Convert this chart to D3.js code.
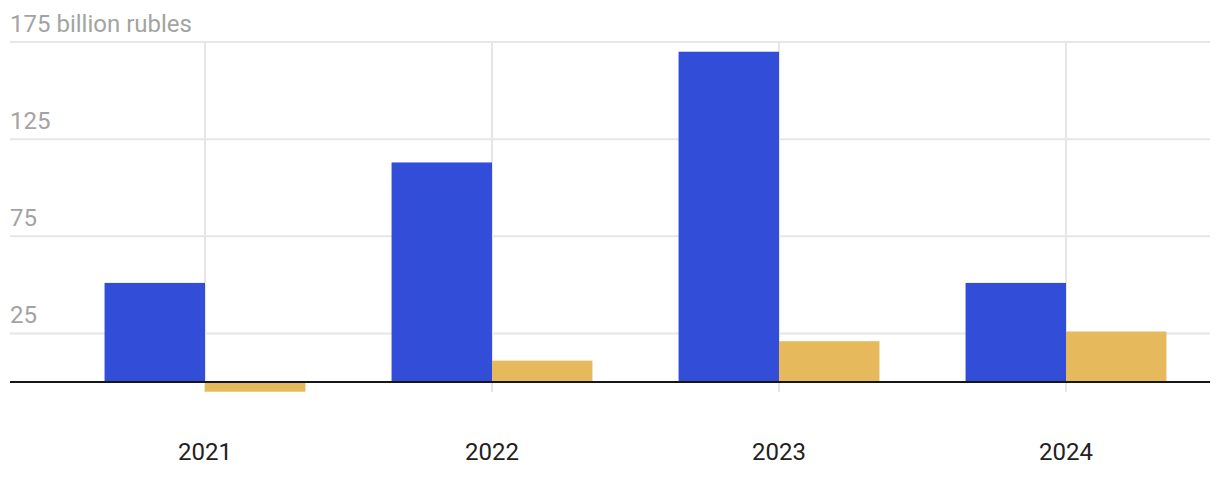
<!DOCTYPE html>
<html>
<head>
<meta charset="utf-8">
<script src="https://cdn.jsdelivr.net/npm/d3@7"></script>
<style>
  body { margin: 0; background: #fff; }
  svg text { font-family: Roboto, "Noto Sans", sans-serif; }
</style>
</head>
<body>
<div id="chart"></div>
<script>
// data
var years = ["2021", "2022", "2023", "2024"];
var seriesA = [51, 113, 170, 51];   // blue
var seriesB = [-5, 11, 21, 26];     // yellow
var yTicks = [25, 75, 125, 175];

var svgWidth = 1220, svgHeight = 484;

var svg = d3.select("#chart").append("svg")
    .attr("width", svgWidth)
    .attr("height", svgHeight);

// plot area
var gridLeft = 10, gridRight = 1210;
var plotTop = 42, plotBottom = 392;

var y = d3.scaleLinear()
    .domain([0, 175])
    .range([382, 42]);

var x0 = d3.scaleBand()
    .domain(years)
    .range([61.5, 1209.5])
    .paddingInner(0.3)
    .paddingOuter(0.15);

var x1 = d3.scaleBand()
    .domain([0, 1])
    .range([0, x0.bandwidth()]);

var colors = ["#324dd8", "#e7b95d"];

// horizontal gridlines
svg.append("g").selectAll("line")
    .data(yTicks)
    .enter().append("line")
    .attr("x1", gridLeft)
    .attr("x2", gridRight)
    .attr("y1", d => y(d))
    .attr("y2", d => y(d))
    .attr("stroke", "#e6e6e6")
    .attr("stroke-width", 2);

// vertical gridlines at group centres
svg.append("g").selectAll("line")
    .data(years)
    .enter().append("line")
    .attr("x1", d => x0(d) + x0.bandwidth() / 2)
    .attr("x2", d => x0(d) + x0.bandwidth() / 2)
    .attr("y1", plotTop)
    .attr("y2", plotBottom)
    .attr("stroke", "#e6e6e6")
    .attr("stroke-width", 2);

// y labels sit above their gridline
svg.append("g").selectAll("text")
    .data(yTicks)
    .enter().append("text")
    .attr("x", gridLeft)
    .attr("y", d => y(d) - 10)
    .attr("font-size", 24)
    .attr("fill", "#a3a3a3")
    .text(d => d === 175 ? d + " billion rubles" : d);

// bars
var rows = years.map((yr, i) => ({ year: yr, vals: [seriesA[i], seriesB[i]] }));

var groups = svg.append("g").selectAll("g")
    .data(rows)
    .enter().append("g")
    .attr("transform", d => `translate(${x0(d.year)},0)`);

groups.selectAll("rect")
    .data(d => d.vals.map((v, k) => ({ k: k, v: v })))
    .enter().append("rect")
    .attr("x", d => x1(d.k))
    .attr("width", x1.bandwidth())
    .attr("y", d => y(Math.max(0, d.v)))
    .attr("height", d => Math.abs(y(d.v) - y(0)))
    .attr("fill", d => colors[d.k]);

// zero line
svg.append("line")
    .attr("x1", gridLeft)
    .attr("x2", gridRight)
    .attr("y1", y(0))
    .attr("y2", y(0))
    .attr("stroke", "#161616")
    .attr("stroke-width", 2);

// x labels
var xAxis = d3.axisBottom(x0).tickSize(0).tickPadding(0);
var gx = svg.append("g")
    .attr("transform", "translate(0,460)")
    .call(xAxis);
gx.select(".domain").remove();
gx.selectAll("text")
    .attr("dy", 0)
    .attr("font-size", 24)
    .attr("fill", "#222");
</script>
</body>
</html>
